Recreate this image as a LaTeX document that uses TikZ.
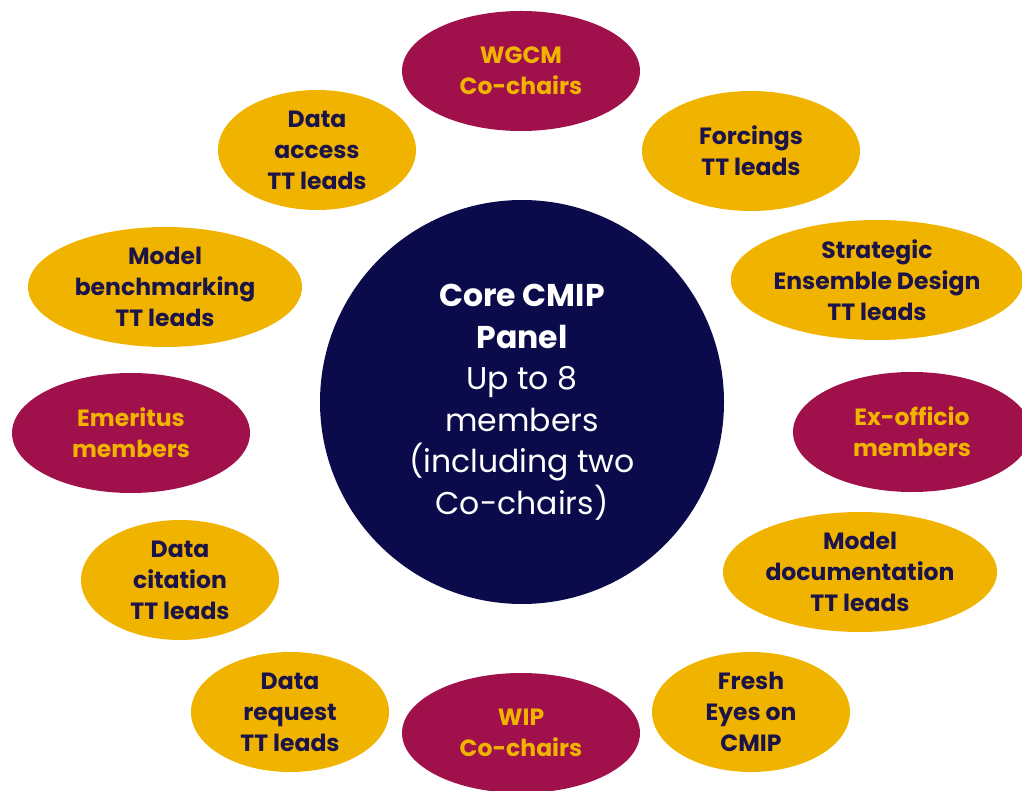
\documentclass[tikz,border=0pt]{standalone}
\usepackage{fontspec}
\setmainfont{Poppins}
\usetikzlibrary{shapes.geometric}

\definecolor{panelnavy}{HTML}{0B0B4B}
\definecolor{leadgold}{HTML}{F0B400}
\definecolor{chairwine}{HTML}{A0104A}
\definecolor{leadink}{HTML}{1C1448}

\begin{document}
\begin{tikzpicture}[x=1pt,y=-1pt,
  panel node/.style={circle,fill=panelnavy,minimum size=404pt,inner sep=0pt,
    text=white,align=center,font=\fontsize{31.5}{41.5}\selectfont},
  lead node/.style={ellipse,fill=leadgold,minimum width=198pt,minimum height=120pt,
    inner sep=0pt,text=leadink,align=center,font=\bfseries\fontsize{23.5}{31}\selectfont},
  wide lead/.style={lead node,minimum width=274pt},
  chair node/.style={lead node,fill=chairwine,text=leadgold,minimum width=238pt}]

  \useasboundingbox (0,0) rectangle (1022,791);

  \node[panel node] (core) at (522,402)
    {\textbf{Core CMIP}\\ \textbf{Panel}\\ Up to 8\\ members\\ (including two\\ Co-chairs)};

  % outer ring, clockwise from the top
  \node[chair node] (wgcm) at (521,71) {WGCM\\ Co-chairs};
  \node[lead node, minimum width=218pt] (forcings) at (751,151) {Forcings\\ TT leads};
  \node[wide lead] (ensemble) at (877,280) {Strategic\\ Ensemble Design\\ TT leads};
  \node[chair node] (exofficio) at (912,432) {Ex-officio\\ members};
  \node[wide lead] (modeldoc) at (860,572) {Model\\ documentation\\ TT leads};
  \node[lead node] (fresheyes) at (751,712) {Fresh\\ Eyes on\\ CMIP};
  \node[chair node] (wip) at (521,733) {WIP\\ Co-chairs};
  \node[lead node] (request) at (290,712) {Data\\ request\\ TT leads};
  \node[lead node] (citation) at (180,580) {Data\\ citation\\ TT leads};
  \node[chair node] (emeritus) at (131,433) {Emeritus\\ members};
  \node[wide lead] (benchmark) at (165,287) {Model\\ benchmarking\\ TT leads};
  \node[lead node] (access) at (317,150) {Data\\ access\\ TT leads};
\end{tikzpicture}
\end{document}
